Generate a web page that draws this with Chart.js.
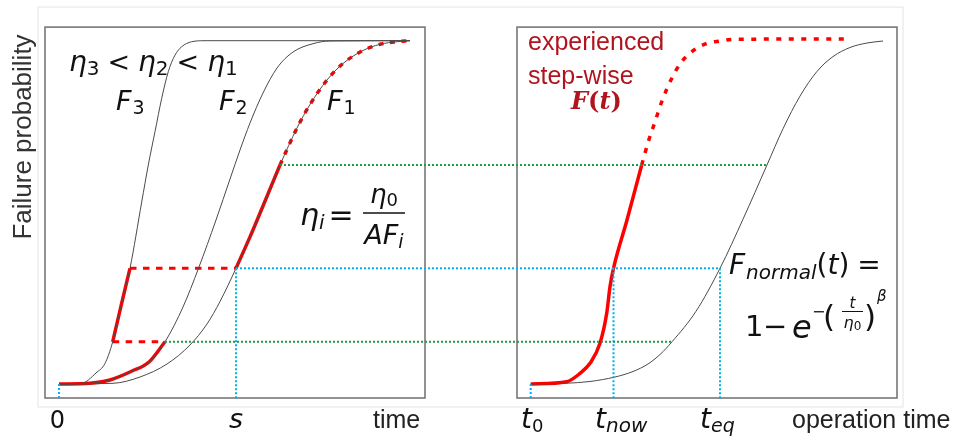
<!DOCTYPE html>
<html>
<head>
<meta charset="utf-8">
<script src="https://cdn.jsdelivr.net/npm/chart.js@4.4.1/dist/chart.umd.min.js"></script>
<style>
  html, body { margin: 0; padding: 0; background: #fff; }
  #wrap { width: 957px; height: 441px; position: relative; }
</style>
</head>
<body>
<div id="wrap"><canvas id="chart"></canvas></div>
<script>
// time axis in arbitrary units: left panel starts at 0, right panel is shifted to the right
const S = 177;        // time s on the left panel
const T0 = 471.7;     // t0 on the right panel
const T_NOW = 554.5;
const T_EQ = 661;
const P_LOW = 0.123;  // failure probability levels used by the helper lines
const P_S = 0.337;
const P_HIGH = 0.638;

// [time, failure probability]
const curveF3 = [[0,0],[22.7,0.002],[37,0.032],[46,0.06],[53.7,0.123],[62,0.227],[71,0.337],[82.7,0.53],[89.3,0.638],[96,0.735],[102.7,0.832],[109.3,0.91],[116,0.958],[122.7,0.9825],[132.7,0.997],[146,1],[351,1]];
const curveF2 = [[0,0],[31,0.002],[51,0.0117],[72,0.0364],[90,0.0641],[106,0.123],[124,0.2243],[139.5,0.337],[157,0.4777],[171,0.5971],[181,0.6816],[191,0.7602],[204,0.8476],[218,0.9204],[234,0.967],[254,0.9913],[271,0.9991],[351,1]];
const curveF1 = [[0,0],[54,0.002],[81,0.0204],[108,0.0583],[131,0.1136],[148,0.1748],[161,0.2403],[177,0.337],[191,0.4285],[204,0.5185],[221,0.638],[238,0.7457],[251,0.8142],[268,0.8855],[284,0.9336],[304,0.9715],[321,0.9895],[338,0.9971],[351,1]];
const curveNormal = [[471.7,0],[506,0.002],[531,0.0073],[556,0.0204],[574,0.0364],[589,0.0583],[601,0.0859],[613,0.123],[637,0.2118],[661,0.337],[684,0.48],[708,0.638],[724,0.7434],[741,0.8386],[758,0.9106],[774,0.9537],[791,0.9802],[808,0.9933],[824,0.9991]];

// experienced step-wise path, left panel
const redOnF2 = [[0,0],[31,0.002],[51,0.0117],[72,0.0364],[90,0.0641],[106,0.123]];
const redOnF3 = [[53.7,0.123],[62,0.227],[71,0.337]];
const redOnF1 = [[177,0.337],[191,0.4285],[204,0.5185],[221,0.638]];
const redF1Future = [[221,0.638],[238,0.7457],[251,0.8142],[268,0.8855],[284,0.9336],[304,0.9715],[321,0.9895],[338,0.9971],[351,1]];
const redJumpLow = [[53.7,0.123],[106,0.123]];
const redJumpS = [[71,0.337],[177,0.337]];

// experienced F(t), right panel
const redRight = [[471.7,0],[507.7,0.0067],[521,0.031],[531,0.0603],[541,0.1185],[547.7,0.2059],[551,0.2834],[554.5,0.337],[568,0.4778],[582.7,0.638]];
const redRightFuture = [[582.7,0.638],[589.3,0.706],[596,0.764],[602.7,0.822],[612.7,0.89],[622.7,0.939],[637.7,0.978],[649,0.993],[661,0.999],[674,1.004],[788,1.005]];

// helper lines
const greenHigh = [[221,P_HIGH],[708,P_HIGH]];
const greenLow = [[106,P_LOW],[613,P_LOW]];
const blueLevel = [[S,P_S],[T_EQ,P_S]];
const blueDrops = [[0,0],[S,P_S],[T0,0],[T_NOW,P_S],[T_EQ,P_S]];
const P_FLOOR = -0.045;

// panel frames [t from, t to, p bottom, p top]
const panels = [[-14,366,-0.0408,1.0396],[458,838,-0.0408,1.0396]];
const outerBox = [-21,844,-0.067,1.098];

const RED = '#ff0000', BLUE = '#00b0f0', GREEN = '#1e9b48', GREY = '#4a4a4a', DARKRED = '#b0151f';

const pts = arr => arr.map(([x, y]) => ({x, y}));
function line(arr, color, width, dash, smooth) {
    return {
        data: pts(arr),
        borderColor: color,
        borderWidth: width,
        borderDash: dash || [],
        borderCapStyle: 'butt',
        pointRadius: 0,
        fill: false,
        cubicInterpolationMode: smooth ? 'monotone' : 'default',
        tension: 0
    };
}

const datasets = [
    line(greenHigh, GREEN, 2, [2, 2]),
    line(greenLow, GREEN, 2, [2, 2]),
    line(blueLevel, BLUE, 2, [2, 2])
];
blueDrops.forEach(([t, p]) => datasets.push(line([[t, p], [t, P_FLOOR]], BLUE, 2, [2, 2])));
datasets.push(
    line(curveF3, GREY, 1, null, true),
    line(curveF2, GREY, 1, null, true),
    line(curveF1, GREY, 1, null, true),
    line(curveNormal, GREY, 1, null, true),
    line(redOnF2, RED, 3.5, null, true),
    line(redJumpLow, RED, 3, [6.5, 6.5]),
    line(redOnF3, RED, 3.5, null, true),
    line(redJumpS, RED, 3, [6.5, 6.5]),
    line(redOnF1, RED, 3.5, null, true),
    line(redF1Future, RED, 3.5, [5, 6.5], true),
    line(redRight, RED, 3.5, null, true),
    line(redRightFuture, RED, 3.5, [5, 7.5], true)
);

const SANS = '"DejaVu Sans"';
const it = s => `italic ${s}px ${SANS}`;
const up = s => `${s}px ${SANS}`;
const arial = s => `${s}px "Liberation Sans", Arial, sans-serif`;

function runWidth(ctx, runs) {
    let w = 0;
    runs.forEach(r => { ctx.font = r.font; w += ctx.measureText(r.text).width + (r.gap || 0); });
    return w;
}
function drawRuns(ctx, runs, x, y, opt = {}) {
    ctx.save();
    ctx.translate(x, y);
    if (opt.rot) ctx.rotate(opt.rot);
    ctx.scale(opt.sx || 1, 1);
    ctx.textAlign = 'left';
    ctx.textBaseline = 'alphabetic';
    let cx = opt.align === 'center' ? -runWidth(ctx, runs) / 2 : 0;
    runs.forEach(r => {
        ctx.font = r.font;
        ctx.fillStyle = r.color || opt.color || '#111';
        ctx.fillText(r.text, cx, r.dy || 0);
        cx += ctx.measureText(r.text).width + (r.gap || 0);
    });
    ctx.restore();
}
function hbar(ctx, x1, x2, y, w) {
    ctx.save();
    ctx.strokeStyle = '#111';
    ctx.lineWidth = w;
    ctx.beginPath();
    ctx.moveTo(x1, y);
    ctx.lineTo(x2, y);
    ctx.stroke();
    ctx.restore();
}

const framePlugin = {
    id: 'frames',
    beforeDatasetsDraw(chart) {
        const {ctx, scales: {x, y}} = chart;
        const box = ([t1, t2, p1, p2], color, w) => {
            const l = x.getPixelForValue(t1), r = x.getPixelForValue(t2);
            const b = y.getPixelForValue(p1), t = y.getPixelForValue(p2);
            ctx.save();
            ctx.strokeStyle = color;
            ctx.lineWidth = w;
            ctx.strokeRect(l, t, r - l, b - t);
            ctx.restore();
        };
        box(outerBox, '#e4e4e4', 1);
        panels.forEach(p => box(p, '#777777', 1.6));
    }
};

const textPlugin = {
    id: 'texts',
    afterDatasetsDraw(chart) {
        const {ctx, scales: {x}} = chart;
        // y axis title
        drawRuns(ctx, [{text: 'Failure probability', font: arial(26), color: '#333'}], 31, 137,
            {rot: -Math.PI / 2, align: 'center'});

        // bottom labels
        const base = 428;
        drawRuns(ctx, [{text: '0', font: up(24)}], x.getPixelForValue(0) - 1.5, base, {align: 'center'});
        drawRuns(ctx, [{text: 's', font: it(27)}], x.getPixelForValue(S), base, {align: 'center'});
        drawRuns(ctx, [{text: 'time', font: arial(25), color: '#222'}], 373, base);
        drawRuns(ctx, [{text: 't', font: it(28)}, {text: '0', font: up(18), dy: 4}], 521, base);
        drawRuns(ctx, [{text: 't', font: it(28)}, {text: 'now', font: it(20), dy: 4}], 595, base);
        drawRuns(ctx, [{text: 't', font: it(28)}, {text: 'eq', font: it(19), dy: 4}], 700, base);
        drawRuns(ctx, [{text: 'operation time', font: arial(25), color: '#222'}], 792, base);

        // left panel annotations
        drawRuns(ctx, [
            {text: 'η', font: it(28)}, {text: '3', font: up(20), dy: 4, gap: 8},
            {text: '<', font: up(27), gap: 8},
            {text: 'η', font: it(28)}, {text: '2', font: up(20), dy: 4, gap: 8},
            {text: '<', font: up(27), gap: 8},
            {text: 'η', font: it(28)}, {text: '1', font: up(20), dy: 4}
        ], 69, 71);
        [['3', 116], ['2', 219], ['1', 327]].forEach(([i, px]) => {
            drawRuns(ctx, [{text: 'F', font: it(27), gap: 1}, {text: i, font: up(19), dy: 4}], px, 110);
        });
        drawRuns(ctx, [{text: 'η', font: it(30)}, {text: 'i', font: it(20), dy: 4, gap: 4}, {text: '=', font: up(30)}], 300, 225);
        drawRuns(ctx, [{text: 'η', font: it(26)}, {text: '0', font: up(18), dy: 3}], 384, 203, {align: 'center'});
        hbar(ctx, 363, 405, 213, 1.6);
        drawRuns(ctx, [{text: 'A', font: it(27)}, {text: 'F', font: it(27)}, {text: 'i', font: it(19), dy: 4}], 384, 244, {align: 'center'});

        // right panel annotations
        drawRuns(ctx, [{text: 'experienced', font: arial(25)}], 528, 50, {color: DARKRED});
        drawRuns(ctx, [{text: 'step-wise', font: arial(25)}], 528, 84, {color: DARKRED});
        drawRuns(ctx, [{text: 'F', font: 'bold italic 24px "DejaVu Serif"'}, {text: '(', font: 'bold 24px "DejaVu Serif"'},
            {text: 't', font: 'bold italic 24px "DejaVu Serif"'}, {text: ')', font: 'bold 24px "DejaVu Serif"'}], 571, 109, {color: DARKRED});

        drawRuns(ctx, [
            {text: 'F', font: it(28), gap: 1}, {text: 'normal', font: it(20), dy: 5},
            {text: '(', font: up(28)}, {text: 't', font: it(28)}, {text: ')', font: up(28), gap: 8},
            {text: '=', font: up(28)}
        ], 729, 274);
        drawRuns(ctx, [{text: '1', font: up(29)}], 745, 336);
        drawRuns(ctx, [{text: '\u2212', font: up(29)}], 763, 336);
        drawRuns(ctx, [{text: 'e', font: it(32)}], 792, 338);
        drawRuns(ctx, [{text: '\u2212', font: up(16)}], 812, 317);
        drawRuns(ctx, [{text: '(', font: up(31)}], 823, 327);
        drawRuns(ctx, [{text: 't', font: it(15)}], 852.5, 308, {align: 'center'});
        hbar(ctx, 842, 863, 311.5, 1);
        drawRuns(ctx, [{text: 'η', font: it(16)}, {text: '0', font: up(12), dy: 2}], 852.5, 328, {align: 'center'});
        drawRuns(ctx, [{text: ')', font: up(31)}], 864, 327);
        drawRuns(ctx, [{text: 'β', font: it(15)}], 877, 301);
    }
};

new Chart(document.getElementById('chart'), {
    type: 'line',
    data: { datasets },
    options: {
        responsive: true,
        maintainAspectRatio: false,
        animation: false,
        events: [],
        layout: { padding: 0 },
        plugins: { legend: { display: false }, tooltip: { enabled: false } },
        scales: {
            x: { type: 'linear', display: false, min: -59, max: 898 },
            y: { type: 'linear', display: false, min: -0.16604, max: 1.11856 }
        }
    },
    plugins: [framePlugin, textPlugin]
});
</script>
</body>
</html>
